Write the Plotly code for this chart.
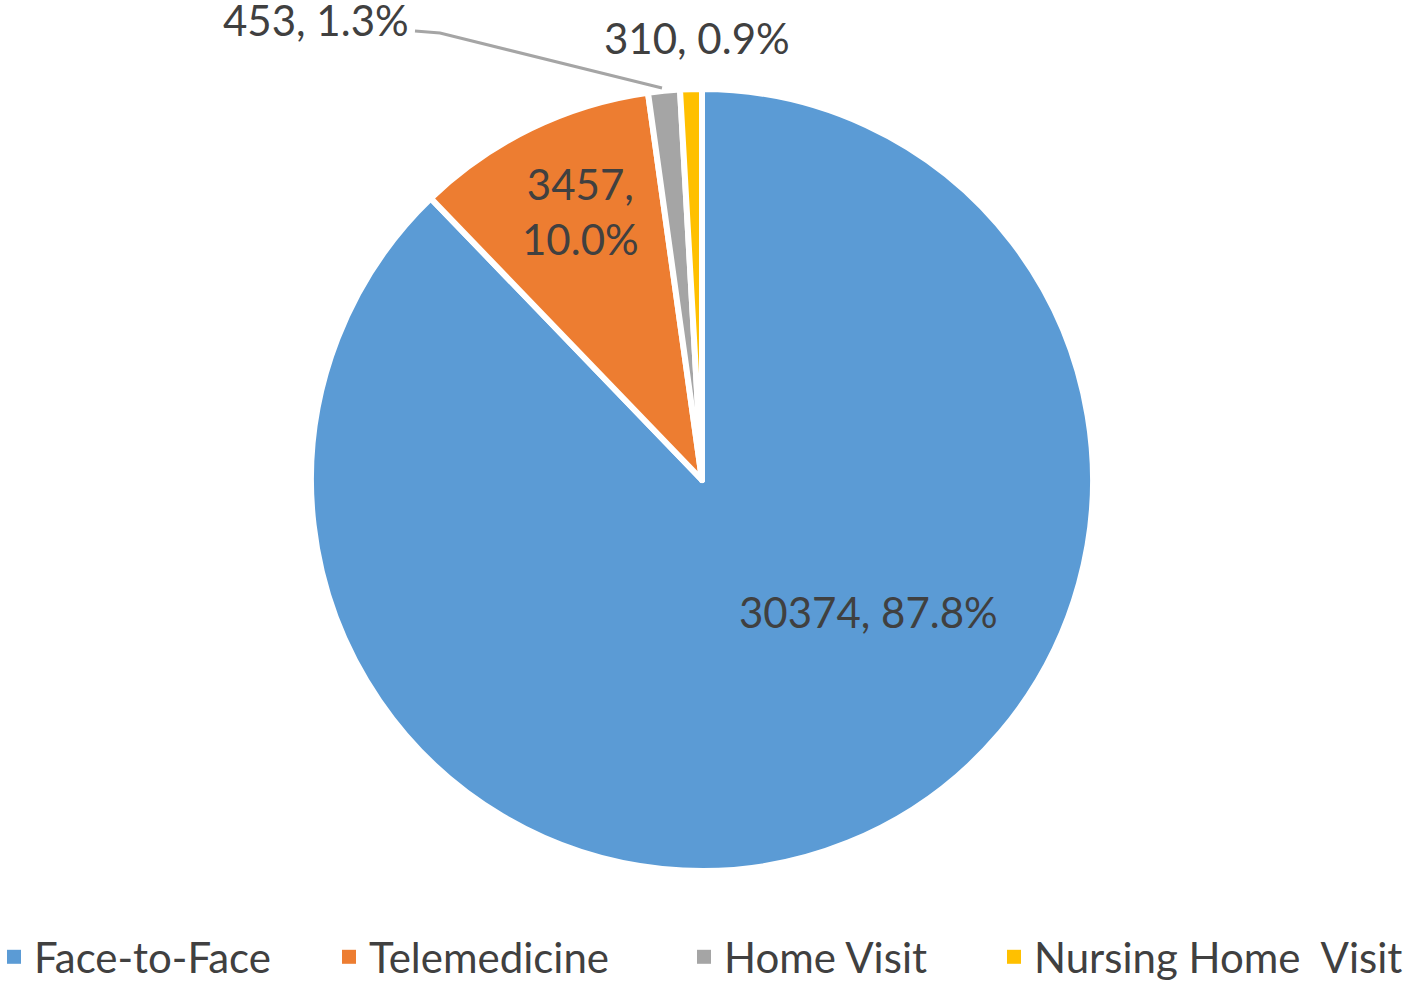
import plotly.graph_objects as go

categories = ["Face-to-Face", "Telemedicine", "Home Visit", "Nursing Home  Visit"]
counts = [30374, 3457, 453, 310]
percents = [87.8, 10.0, 1.3, 0.9]
colors = ["#5B9BD5", "#ED7D31", "#A5A5A5", "#FFC000"]

FONT = "Lato"
TXT = "#404040"

fig = go.Figure(go.Pie(
    labels=categories,
    values=counts,
    sort=False,
    direction="clockwise",
    rotation=0,
    marker=dict(colors=colors, line=dict(color="white", width=6)),
    textinfo="none",
    hoverinfo="label+value+percent",
    showlegend=False,
))

W, H = 1414, 981
ml, mr, mt, mb = 0, 10, 89, 110
pw, ph = W - ml - mr, H - mt - mb

def px(x, y):
    return (x - ml) / pw, (H - mb - y) / ph

# legend entries (square swatches), one legend box per slice
legend_left = [-6, 329, 684, 994]
legend_names = ["legend", "legend2", "legend3", "legend4"]
legend_layout = {}
for c, col, lname, lx in zip(categories, colors, legend_names, legend_left):
    fig.add_trace(go.Scatter(x=[None], y=[None], mode="markers", name=c,
                             marker=dict(symbol="square", size=14, color=col),
                             showlegend=True, hoverinfo="skip", legend=lname))
    x0, y0 = px(lx, 991)
    legend_layout[lname] = dict(orientation="h", x=x0, xanchor="left", y=y0, yanchor="bottom",
                                font=dict(family=FONT, size=42, color=TXT),
                                itemwidth=30, bgcolor="rgba(0,0,0,0)")

label_pos = [(868, 612), (580, 211), (316, 20), (697, 38)]
label_text = [
    f"{counts[0]}, {percents[0]:.1f}%",
    f"{counts[1]},<br>{percents[1]:.1f}%",
    f"{counts[2]}, {percents[2]:.1f}%",
    f"{counts[3]}, {percents[3]:.1f}%",
]
for (x, y), t in zip(label_pos, label_text):
    ax, ay = px(x, y)
    fig.add_annotation(x=ax, y=ay, xref="paper", yref="paper", text=t,
                       showarrow=False, xanchor="center", yanchor="middle",
                       font=dict(family=FONT, size=42, color=TXT))

# leader line for Home Visit label
p1, p2, p3 = px(415, 31), px(440, 33), px(662, 88)
fig.add_shape(type="path", xref="paper", yref="paper",
              path=f"M {p1[0]},{p1[1]} L {p2[0]},{p2[1]} L {p3[0]},{p3[1]}",
              line=dict(color="#A5A5A5", width=3))

fig.update_layout(
    width=W, height=H,
    margin=dict(l=ml, r=mr, t=mt, b=mb, autoexpand=False),
    paper_bgcolor="white", plot_bgcolor="white",
    font=dict(family=FONT, color=TXT),
    xaxis=dict(visible=False), yaxis=dict(visible=False),
    **legend_layout,
)

fig.write_html("out.html", config={"displayModeBar": False},
               post_script="document.body.style.margin='0';")
